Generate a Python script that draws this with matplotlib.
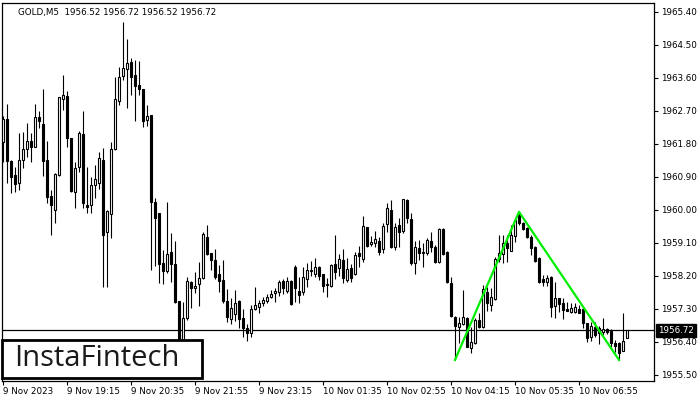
import matplotlib.pyplot as plt
from matplotlib.patches import Rectangle

# GOLD M5 candles
opens = [1961.86, 1962.47, 1961.34, 1960.95, 1960.73, 1961.36, 1961.66, 1961.88, 1961.73, 1962.53,
         1962.35, 1961.36, 1960.38, 1960.00, 1960.95, 1963.02, 1963.11, 1961.96, 1960.50, 1961.16,
         1962.07, 1960.14, 1960.14, 1960.68, 1960.74, 1961.36, 1959.41, 1959.88, 1961.66, 1962.97,
         1963.66, 1963.85, 1964.04, 1963.68, 1963.41, 1963.30, 1962.45, 1962.59, 1960.23, 1959.91,
         1958.55, 1958.34, 1958.85, 1958.52, 1957.52, 1956.32, 1957.06, 1958.03, 1957.86, 1957.97,
         1958.14, 1959.27, 1958.82, 1958.64, 1958.25, 1958.09, 1957.53, 1957.02, 1957.16, 1957.53,
         1957.05, 1956.77, 1956.65, 1957.29, 1957.35, 1957.45, 1957.53, 1957.62, 1957.74, 1957.77,
         1958.06, 1957.80, 1958.06, 1958.45, 1957.80, 1957.77, 1958.11, 1958.34, 1958.25, 1958.44,
         1958.25, 1957.98, 1957.93, 1958.53, 1958.41, 1958.64, 1958.09, 1958.41, 1958.25, 1958.82,
         1958.66, 1959.53, 1959.07, 1959.09, 1959.16, 1958.93, 1959.62, 1960.00, 1959.00, 1959.59,
         1959.43, 1960.27, 1959.75, 1958.55, 1958.96, 1958.82, 1958.84, 1959.16, 1958.98, 1958.59,
         1959.47, 1958.86, 1958.00, 1957.09, 1956.82, 1956.89, 1957.05, 1956.23, 1956.36, 1957.00,
         1956.80, 1957.77, 1957.41, 1957.56, 1958.66, 1958.80, 1959.11, 1958.89, 1959.29, 1959.86,
         1959.64, 1959.50, 1959.26, 1959.00, 1958.68, 1958.11, 1958.04, 1958.18, 1957.38, 1957.59,
         1957.47, 1957.29, 1957.23, 1957.23, 1957.29, 1957.29, 1956.91, 1956.53, 1956.82, 1956.77,
         1956.68, 1956.75, 1956.71, 1956.36, 1956.36, 1956.16, 1956.52]
highs = [1962.56, 1962.89, 1961.36, 1961.18, 1962.09, 1962.14, 1962.36, 1962.09, 1962.89, 1962.71,
         1963.30, 1961.88, 1960.55, 1961.02, 1963.08, 1963.68, 1963.25, 1961.97, 1961.32, 1962.16,
         1962.71, 1961.16, 1960.89, 1961.23, 1961.59, 1961.68, 1960.00, 1961.86, 1963.64, 1963.91,
         1965.12, 1964.66, 1964.14, 1964.09, 1964.06, 1963.31, 1962.86, 1962.60, 1960.34, 1959.92,
         1958.91, 1960.21, 1959.36, 1959.15, 1957.53, 1957.50, 1958.18, 1958.06, 1958.30, 1958.57,
         1959.41, 1959.59, 1958.83, 1958.93, 1958.50, 1958.64, 1957.84, 1957.59, 1957.82, 1957.54,
         1957.29, 1956.89, 1957.41, 1957.91, 1957.55, 1957.64, 1957.71, 1957.82, 1957.86, 1958.09,
         1958.12, 1958.16, 1958.09, 1958.50, 1958.18, 1958.45, 1958.55, 1958.62, 1958.68, 1958.47,
         1958.26, 1958.14, 1958.53, 1959.32, 1958.80, 1958.93, 1958.68, 1958.53, 1958.86, 1959.02,
         1959.84, 1959.54, 1959.29, 1959.43, 1959.27, 1959.64, 1960.20, 1960.27, 1959.64, 1959.77,
         1960.30, 1960.29, 1959.92, 1959.16, 1959.18, 1959.09, 1959.23, 1959.41, 1959.05, 1959.50,
         1959.50, 1958.87, 1958.18, 1957.10, 1957.09, 1957.82, 1957.09, 1956.82, 1957.05, 1957.20,
         1957.95, 1957.89, 1957.86, 1958.73, 1959.32, 1959.32, 1959.32, 1959.59, 1959.74, 1959.95,
         1959.68, 1959.54, 1959.32, 1959.02, 1958.71, 1958.23, 1958.23, 1958.19, 1958.04, 1957.60,
         1957.59, 1957.50, 1957.47, 1957.47, 1957.41, 1957.35, 1956.93, 1956.95, 1956.95, 1956.84,
         1957.05, 1956.77, 1956.75, 1956.45, 1956.41, 1957.18, 1956.72]
lows = [1961.32, 1960.74, 1960.46, 1960.50, 1960.55, 1961.14, 1961.45, 1961.32, 1961.71, 1962.23,
        1960.93, 1960.20, 1959.32, 1959.65, 1960.93, 1962.73, 1961.73, 1960.50, 1960.05, 1961.04,
        1960.05, 1959.93, 1959.93, 1960.32, 1960.56, 1957.89, 1957.89, 1959.23, 1961.64, 1962.86,
        1963.55, 1962.79, 1963.14, 1962.43, 1963.14, 1962.27, 1962.30, 1958.36, 1958.48, 1958.00,
        1957.97, 1958.27, 1958.04, 1957.45, 1956.13, 1956.13, 1957.00, 1957.32, 1957.73, 1957.39,
        1958.13, 1958.77, 1958.36, 1958.13, 1957.77, 1957.47, 1956.95, 1956.89, 1956.97, 1956.77,
        1956.53, 1956.44, 1956.53, 1957.27, 1957.20, 1957.38, 1957.45, 1957.59, 1957.50, 1957.65,
        1957.70, 1957.74, 1957.41, 1957.50, 1957.45, 1957.68, 1957.91, 1958.20, 1958.16, 1958.09,
        1957.77, 1957.64, 1957.91, 1958.11, 1958.20, 1958.02, 1958.04, 1958.04, 1958.23, 1958.45,
        1958.59, 1959.00, 1959.02, 1959.00, 1958.77, 1958.82, 1959.41, 1958.97, 1958.91, 1959.00,
        1959.38, 1959.64, 1958.50, 1958.25, 1958.64, 1958.45, 1958.77, 1958.86, 1958.55, 1958.56,
        1958.77, 1958.02, 1957.09, 1955.91, 1956.38, 1956.87, 1956.25, 1956.11, 1956.35, 1956.77,
        1956.77, 1957.25, 1957.25, 1957.55, 1958.59, 1958.56, 1958.59, 1958.88, 1959.14, 1959.59,
        1959.45, 1959.23, 1958.77, 1958.59, 1958.02, 1957.93, 1957.93, 1957.09, 1957.05, 1957.23,
        1957.02, 1957.24, 1957.18, 1957.18, 1957.18, 1956.77, 1956.41, 1956.44, 1956.54, 1956.35,
        1956.59, 1956.62, 1956.27, 1956.14, 1955.91, 1956.15, 1956.52]
closes = [1962.47, 1961.34, 1960.91, 1960.70, 1961.36, 1961.66, 1961.88, 1961.71, 1962.53, 1962.44,
          1961.34, 1960.35, 1960.14, 1960.98, 1963.07, 1963.14, 1961.96, 1960.53, 1961.14, 1962.09,
          1960.20, 1960.09, 1960.68, 1960.84, 1961.41, 1959.32, 1959.98, 1961.66, 1963.02, 1963.62,
          1963.86, 1964.02, 1963.64, 1963.39, 1963.30, 1962.43, 1962.57, 1960.23, 1959.79, 1958.52,
          1958.34, 1958.79, 1958.52, 1957.48, 1956.32, 1957.05, 1958.06, 1957.86, 1957.94, 1958.15,
          1959.34, 1958.79, 1958.64, 1958.16, 1958.07, 1957.53, 1957.09, 1957.32, 1957.46, 1957.02,
          1956.77, 1956.64, 1957.29, 1957.41, 1957.45, 1957.55, 1957.62, 1957.71, 1957.80, 1958.04,
          1957.86, 1958.06, 1957.44, 1957.86, 1957.68, 1958.18, 1958.36, 1958.36, 1958.44, 1958.20,
          1957.93, 1957.95, 1958.50, 1958.32, 1958.66, 1958.14, 1958.38, 1958.14, 1958.77, 1958.75,
          1959.56, 1959.02, 1959.14, 1959.20, 1958.86, 1959.56, 1960.05, 1958.98, 1959.53, 1959.41,
          1960.29, 1959.77, 1958.55, 1958.98, 1958.82, 1958.86, 1959.18, 1958.98, 1958.59, 1959.47,
          1958.80, 1958.04, 1957.11, 1956.84, 1956.91, 1957.09, 1956.27, 1956.41, 1957.00, 1956.80,
          1957.84, 1957.45, 1957.64, 1958.66, 1958.84, 1959.11, 1958.96, 1959.32, 1959.73, 1959.64,
          1959.47, 1959.26, 1958.96, 1958.62, 1958.04, 1958.04, 1958.14, 1957.36, 1957.59, 1957.44,
          1957.27, 1957.25, 1957.32, 1957.36, 1957.20, 1956.91, 1956.50, 1956.84, 1956.59, 1956.65,
          1956.75, 1956.68, 1956.36, 1956.29, 1956.11, 1956.44, 1956.72]

# double top pattern (bar index, price)
pattern_idx = [113, 129, 154]
pattern_px = [1955.91, 1959.95, 1955.91]

bid = 1956.72
yticks = [1955.50, 1956.40, 1957.30, 1958.20, 1959.10, 1960.00,
          1960.90, 1961.80, 1962.70, 1963.60, 1964.50, 1965.40]
xtick_idx = [0, 16, 32, 48, 64, 80, 96, 112, 128, 144]
xtick_labels = ["9 Nov 2023", "9 Nov 19:15", "9 Nov 20:35", "9 Nov 21:55", "9 Nov 23:15",
                "10 Nov 01:35", "10 Nov 02:55", "10 Nov 04:15", "10 Nov 05:35", "10 Nov 06:55"]

fig = plt.figure(figsize=(7, 4), dpi=100)
ax = fig.add_axes([2 / 700, 19 / 400, 652 / 700, 378 / 400])

# candles
w = 0.5
for i in range(len(opens)):
    o, h, l, c = opens[i], highs[i], lows[i], closes[i]
    ax.vlines(i, l, h, color="black", lw=0.8, zorder=2)
    fc = "white" if c >= o else "black"
    body = max(abs(c - o), 0.004)
    ax.add_patch(Rectangle((i - w / 2, min(o, c)), w, body, facecolor=fc,
                           edgecolor="black", lw=0.8, zorder=3))

# bid line + pattern
ax.axhline(bid, color="black", lw=0.9, zorder=1)
ax.plot(pattern_idx, pattern_px, color="#00ee00", lw=1.6, zorder=4)

ax.set_xlim(-0.25, 162.75)
ax.set_ylim(1955.336, 1965.645)

ax.yaxis.tick_right()
ax.set_yticks(yticks)
ax.set_yticklabels([f"{v:.2f}" for v in yticks])
ax.set_xticks(xtick_idx)
ax.set_xticklabels(xtick_labels)
for lbl in ax.get_xticklabels():
    lbl.set_ha("left")
ax.tick_params(axis="both", direction="out", length=3, width=0.8, labelsize=6.3, colors="black")
ax.tick_params(axis="y", pad=2)
ax.tick_params(axis="x", pad=1.5)
for s in ax.spines.values():
    s.set_linewidth(0.9)

# bid price label
ax.annotate(f"{bid:.2f}", xy=(1.0, bid), xycoords=("axes fraction", "data"),
            xytext=(3, 0), textcoords="offset points", ha="left", va="center",
            fontsize=6.3, color="white", annotation_clip=False,
            bbox=dict(boxstyle="square,pad=0.25", fc="black", ec="black"))

fig.text(18 / 700, 1 - 12 / 400, "GOLD,M5  1956.52 1956.72 1956.52 1956.72",
         fontsize=6.3, va="center", ha="left", color="black")

# logo box
ax.add_patch(Rectangle((2 / 700, 22 / 400), 200 / 700, 38 / 400, transform=fig.transFigure,
                       facecolor="white", edgecolor="black", lw=2, zorder=10, clip_on=False))
fig.text(97 / 700, 1 - 359 / 400, "InstaFintech", fontsize=21, family="Open Sans",
         ha="center", va="center", color="#1a1a1a", zorder=11)

fig.savefig("out.png", dpi=100)
